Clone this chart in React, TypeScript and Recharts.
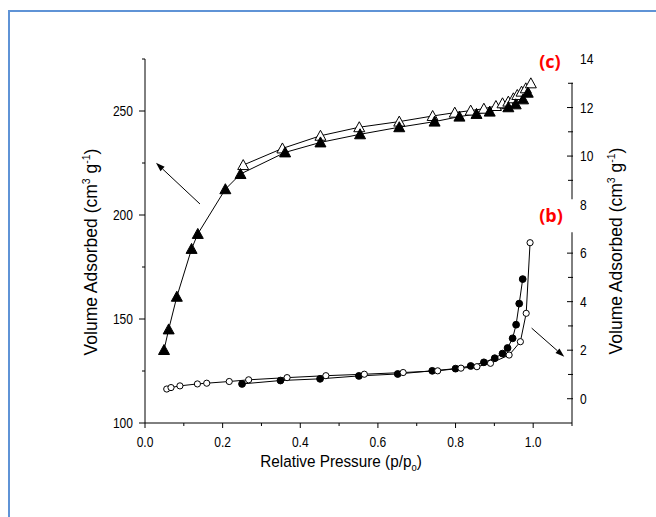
import React from 'react';
import { ComposedChart, Line, XAxis, YAxis, ReferenceLine } from 'recharts';

// (c) isotherm — left axis
const cAdsP = [0.049, 0.061, 0.082, 0.120, 0.136, 0.207, 0.246, 0.361, 0.452, 0.554, 0.655, 0.746, 0.810, 0.854, 0.888, 0.936, 0.955, 0.974, 0.986];
const cAdsV = [135.1, 145.0, 160.7, 183.7, 190.9, 212.4, 219.7, 230.1, 234.9, 238.8, 242.2, 244.9, 247.3, 248.6, 249.7, 251.8, 253.2, 255.6, 258.8];
const cDesP = [0.253, 0.354, 0.452, 0.552, 0.655, 0.741, 0.798, 0.839, 0.873, 0.904, 0.921, 0.936, 0.949, 0.959, 0.970, 0.981, 0.994];
const cDesV = [224.0, 232.0, 238.1, 242.2, 244.9, 247.6, 249.2, 250.2, 251.1, 252.4, 253.7, 254.5, 256.1, 257.7, 259.3, 260.9, 263.3];

// (b) isotherm — right axis
const bAdsP = [0.250, 0.349, 0.451, 0.551, 0.651, 0.740, 0.800, 0.839, 0.873, 0.901, 0.921, 0.934, 0.947, 0.956, 0.964, 0.973];
const bAdsV = [0.61, 0.75, 0.82, 0.94, 1.02, 1.15, 1.24, 1.35, 1.50, 1.67, 1.86, 2.09, 2.49, 3.05, 3.92, 4.93];
const bDesP = [0.056, 0.067, 0.090, 0.135, 0.159, 0.217, 0.267, 0.366, 0.466, 0.565, 0.665, 0.754, 0.814, 0.855, 0.890, 0.938, 0.967, 0.982, 0.992];
const bDesV = [0.40, 0.46, 0.53, 0.61, 0.64, 0.71, 0.78, 0.87, 0.95, 1.01, 1.08, 1.15, 1.26, 1.32, 1.46, 1.80, 2.35, 3.52, 6.43];

// axes
const xTicks = [0, 0.1, 0.2, 0.3, 0.4, 0.5, 0.6, 0.7, 0.8, 0.9, 1.0, 1.1];
const xDomain = [0, 1.1];
const leftTicks = [100, 125, 150, 175, 200, 225, 250, 275];
const leftDomain = [100, 275];
const rightTicks = [-1, 0, 1, 2, 3, 4, 5, 6, 7, 8, 9, 10, 11, 12, 13, 14];
const rightDomain = [-1, 14];

const toPts = (xs: number[], ys: number[]) => xs.map((x, i) => ({ x, y: ys[i] }));
const cAds = toPts(cAdsP, cAdsV);
const cDes = toPts(cDesP, cDesV);
const bAds = toPts(bAdsP, bAdsV);
const bDes = toPts(bDesP, bDesV);

const FONT = "'Liberation Sans', Arial, sans-serif";
const SX = 0.86;

const triDot = (filled: boolean) => (p: any) => {
  const { cx, cy, index } = p;
  if (cx == null || cy == null) return <g key={`t${index}`} />;
  const w = 11, h = 10;
  return (
    <polygon
      key={`t${filled ? 'f' : 'o'}${index}`}
      points={`${cx},${cy - h * 0.55} ${cx - w / 2},${cy + h * 0.45} ${cx + w / 2},${cy + h * 0.45}`}
      fill={filled ? '#000' : '#fff'}
      stroke="#000"
      strokeWidth={1}
    />
  );
};

const circDot = (filled: boolean) => (p: any) => {
  const { cx, cy, index } = p;
  if (cx == null || cy == null) return <g key={`c${index}`} />;
  return (
    <circle
      key={`c${filled ? 'f' : 'o'}${index}`}
      cx={cx}
      cy={cy}
      r={filled ? 3.4 : 3.1}
      fill={filled ? '#000' : '#fff'}
      stroke="#000"
      strokeWidth={1}
    />
  );
};

const NumText = ({ x, y, anchor, children }: any) => (
  <text
    transform={`translate(${x},${y}) scale(${SX},1)`}
    textAnchor={anchor}
    dy="0.36em"
    fontFamily={FONT}
    fontSize={14}
    fill="#000"
  >
    {children}
  </text>
);

const LeftTick = (props: any) => {
  const { x, y, payload } = props;
  const v = payload.value;
  const major = v % 50 === 0;
  return (
    <g>
      <line x1={x} x2={x - (major ? 6 : 3)} y1={y} y2={y} stroke="#000" strokeWidth={1} />
      {major && <NumText x={x - 12} y={y} anchor="end">{v}</NumText>}
    </g>
  );
};

const BottomTick = (props: any) => {
  const { x, y, payload } = props;
  const v = payload.value;
  const major = Math.round(v * 10) % 2 === 0 && v < 1.05;
  return (
    <g>
      <line x1={x} x2={x} y1={y} y2={y + (major ? 5 : 3)} stroke="#000" strokeWidth={1} />
      {major && <NumText x={x} y={y + 19} anchor="middle">{v.toFixed(1)}</NumText>}
    </g>
  );
};

const RightTick = (props: any) => {
  const { x, y, payload } = props;
  const v = payload.value;
  const major = v % 2 === 0;
  const hasLine = (v >= 0 && v <= 6) || (v >= 9 && v <= 13);
  return (
    <g>
      {hasLine && <line x1={x + 1} x2={x - (major ? 5 : 4)} y1={y} y2={y} stroke="#000" strokeWidth={1} />}
      {major && v >= 0 && <NumText x={x + 8} y={y} anchor="start">{v}</NumText>}
    </g>
  );
};

const arrowShape = (p: any) => {
  const { x1, y1, x2, y2 } = p;
  if ([x1, y1, x2, y2].some((v) => v == null || isNaN(v))) return <g />;
  const dx = x2 - x1, dy = y2 - y1;
  const len = Math.sqrt(dx * dx + dy * dy) || 1;
  const ux = dx / len, uy = dy / len;
  const L = 9, W = 3;
  const bx = x2 - ux * L, by = y2 - uy * L;
  return (
    <g>
      <line x1={x1} y1={y1} x2={bx} y2={by} stroke="#000" strokeWidth={1} />
      <polygon
        points={`${x2},${y2} ${bx - uy * W},${by + ux * W} ${bx + uy * W},${by - ux * W}`}
        fill="#000"
      />
    </g>
  );
};

const YTitle = ({ cx, cy }: { cx: number; cy: number }) => (
  <text
    transform={`translate(${cx},${cy}) rotate(-90)`}
    textAnchor="middle"
    dy="0.36em"
    fontFamily={FONT}
    fontSize={17.5}
    fill="#000"
  >
    Volume Adsorbed (cm<tspan dy={-7} fontSize={10.5}>3</tspan><tspan dy={7}> g</tspan>
    <tspan dy={-7} fontSize={10.5}>-1</tspan><tspan dy={7}>)</tspan>
  </text>
);

export default function App() {
  return (
    <div style={{ position: 'absolute', left: 0, top: 0, width: 656, height: 517, background: '#fff', overflow: 'hidden' }}>
      <div
        style={{
          position: 'absolute',
          left: 8,
          top: 10,
          width: 700,
          height: 600,
          borderLeft: '2px solid #5f93d6',
          borderTop: '2px solid #5f93d6',
        }}
      />
      <div style={{ position: 'absolute', left: 0, top: 0 }}>
        <ComposedChart width={656} height={517} margin={{ top: 59, right: 24, bottom: 64, left: 85 }}>
          <XAxis
            dataKey="x"
            type="number"
            domain={xDomain}
            ticks={xTicks}
            allowDataOverflow
            interval={0}
            height={30}
            tickSize={0}
            tickMargin={0}
            tickLine={false}
            tick={<BottomTick />}
            axisLine={{ stroke: '#000', strokeWidth: 1 }}
          />
          <YAxis
            yAxisId="L"
            type="number"
            domain={leftDomain}
            ticks={leftTicks}
            allowDataOverflow
            interval={0}
            width={60}
            tickSize={0}
            tickMargin={0}
            tickLine={false}
            tick={<LeftTick />}
            axisLine={{ stroke: '#000', strokeWidth: 1 }}
          />
          <YAxis
            yAxisId="R"
            orientation="right"
            type="number"
            domain={rightDomain}
            ticks={rightTicks}
            allowDataOverflow
            interval={0}
            width={60}
            tickSize={0}
            tickMargin={0}
            tickLine={false}
            tick={<RightTick />}
            axisLine={false}
          />
          <ReferenceLine
            yAxisId="R"
            ifOverflow="visible"
            segment={[{ x: 1.1, y: -1 }, { x: 1.1, y: 6.86 }]}
            stroke="#000"
            strokeWidth={1}
          />
          <ReferenceLine
            yAxisId="R"
            ifOverflow="visible"
            segment={[{ x: 1.1, y: 8.22 }, { x: 1.1, y: 13.02 }]}
            stroke="#000"
            strokeWidth={1}
          />
          <ReferenceLine
            yAxisId="L"
            ifOverflow="visible"
            segment={[{ x: 0.1416, y: 205.3 }, { x: 0.0283, y: 225.1 }]}
            shape={arrowShape}
          />
          <ReferenceLine
            yAxisId="R"
            ifOverflow="visible"
            segment={[{ x: 0.996, y: 2.91 }, { x: 1.08, y: 1.73 }]}
            shape={arrowShape}
          />
          <Line
            data={bAds}
            dataKey="y"
            yAxisId="R"
            type="linear"
            stroke="#000"
            strokeWidth={1}
            dot={circDot(true)}
            activeDot={false}
            isAnimationActive={false}
          />
          <Line
            data={bDes}
            dataKey="y"
            yAxisId="R"
            type="linear"
            stroke="#000"
            strokeWidth={1}
            dot={circDot(false)}
            activeDot={false}
            isAnimationActive={false}
          />
          <Line
            data={cDes}
            dataKey="y"
            yAxisId="L"
            type="linear"
            stroke="#000"
            strokeWidth={1}
            dot={triDot(false)}
            activeDot={false}
            isAnimationActive={false}
          />
          <Line
            data={cAds}
            dataKey="y"
            yAxisId="L"
            type="linear"
            stroke="#000"
            strokeWidth={1}
            dot={triDot(true)}
            activeDot={false}
            isAnimationActive={false}
          />
        </ComposedChart>
      </div>
      <svg width={656} height={517} style={{ position: 'absolute', left: 0, top: 0, pointerEvents: 'none' }}>
        <text
          transform={`translate(341,467) scale(0.9,1)`}
          textAnchor="middle"
          fontFamily={FONT}
          fontSize={17}
          fill="#000"
        >
          Relative Pressure (p/p<tspan dy={4} fontSize={10.5}>o</tspan><tspan dy={-4}>)</tspan>
        </text>
        <YTitle cx={91} cy={252} />
        <YTitle cx={616} cy={251} />
        <text x={550} y={62} dy="0.36em" textAnchor="middle" fontFamily="'Open Sans', sans-serif" fontWeight={700} fontSize={18} fill="#ff0000">
          (c)
        </text>
        <text x={551} y={216} dy="0.36em" textAnchor="middle" fontFamily="'Open Sans', sans-serif" fontWeight={700} fontSize={18} fill="#ff0000">
          (b)
        </text>
      </svg>
    </div>
  );
}
